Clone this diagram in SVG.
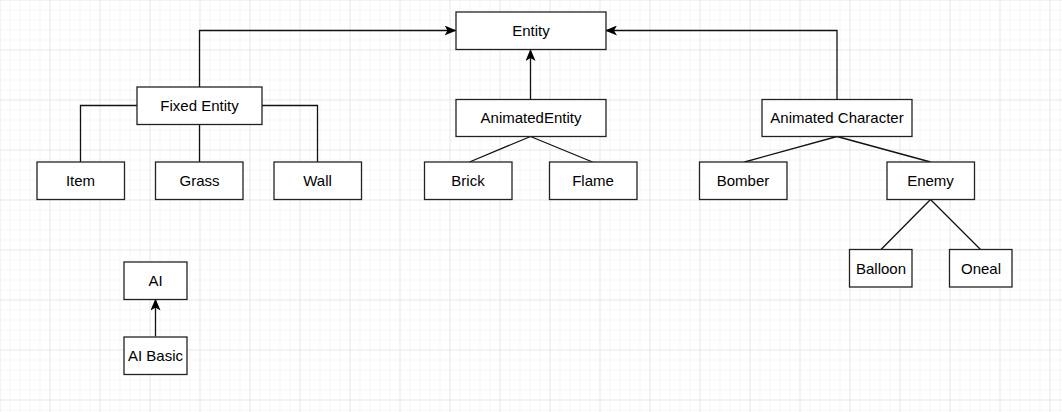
<svg xmlns="http://www.w3.org/2000/svg" width="1062" height="412" viewBox="0 0 1062 412">
<defs>
<pattern id="minor" width="10" height="10" patternUnits="userSpaceOnUse" x="-0.5" y="-0.5">
<path d="M10 0H0V10" fill="none" stroke="#eeeeee" stroke-width="1"/>
</pattern>
<pattern id="major" width="50" height="50" patternUnits="userSpaceOnUse" x="-0.5" y="-0.5">
<path d="M50 0H0V50" fill="none" stroke="#dcdcdc" stroke-width="1"/>
</pattern>
<marker id="arr" viewBox="0 0 12 10" refX="11" refY="5" markerWidth="12" markerHeight="10" markerUnits="userSpaceOnUse" orient="auto">
<path d="M0 0L12 5L0 10L3 5Z" fill="#000"/>
</marker>
<style>
.box rect{fill:#fff;stroke:#222;stroke-width:1.3}
.box text{font-family:"Liberation Sans",Arial,sans-serif;font-size:15px;fill:#000;text-anchor:middle}
.c path{fill:none;stroke:#111;stroke-width:1.3}
</style>
</defs>
<rect width="1062" height="412" fill="#fff"/>
<rect width="1062" height="412" fill="url(#minor)"/>
<rect width="1062" height="412" fill="url(#major)"/>
<g class="c" id="connectors">
<path d="M199.5 87V30.5H455.5" marker-end="url(#arr)"/>
<path d="M837 99.5V30.5H606" marker-end="url(#arr)"/>
<path d="M530.5 99.5V50" marker-end="url(#arr)"/>
<path d="M137 105.5H80.5V162"/>
<path d="M199.5 124V162"/>
<path d="M262 105.5H317.5V162"/>
<path d="M530.5 136.5L469.5 162M530.5 136.5L592.5 162"/>
<path d="M837 136.5L744.5 162M837 136.5L930.5 162"/>
<path d="M930.5 199.5L881 249.5M930.5 199.5L980.5 249.5"/>
<path d="M155.5 336.5V299.5" marker-end="url(#arr)"/>
</g>
<g class="box" id="entity"><rect x="456" y="12" width="150" height="37.5"/><text x="531" y="36">Entity</text></g>
<g class="box" id="fixed-entity"><rect x="137" y="87" width="125" height="37.5"/><text x="199.5" y="111">Fixed Entity</text></g>
<g class="box" id="animated-entity"><rect x="456" y="99.5" width="150" height="37"/><text x="531" y="123">AnimatedEntity</text></g>
<g class="box" id="animated-character"><rect x="762" y="99.5" width="150" height="37"/><text x="837" y="123">Animated Character</text></g>
<g class="box" id="item"><rect x="37" y="162" width="87.5" height="37.5"/><text x="80.5" y="186">Item</text></g>
<g class="box" id="grass"><rect x="155.5" y="162" width="87.5" height="37.5"/><text x="199.5" y="186">Grass</text></g>
<g class="box" id="wall"><rect x="274" y="162" width="87.5" height="37.5"/><text x="317.5" y="186">Wall</text></g>
<g class="box" id="brick"><rect x="424.5" y="162" width="87.5" height="37.5"/><text x="468" y="186">Brick</text></g>
<g class="box" id="flame"><rect x="549.5" y="162" width="87.5" height="37.5"/><text x="593" y="186">Flame</text></g>
<g class="box" id="bomber"><rect x="699.5" y="162" width="87.5" height="37.5"/><text x="743" y="186">Bomber</text></g>
<g class="box" id="enemy"><rect x="887" y="162" width="87.5" height="37.5"/><text x="930.5" y="186">Enemy</text></g>
<g class="box" id="balloon"><rect x="849.5" y="249.5" width="62.5" height="37.5"/><text x="881" y="273.5">Balloon</text></g>
<g class="box" id="oneal"><rect x="949.5" y="249.5" width="62.5" height="37.5"/><text x="981" y="273.5">Oneal</text></g>
<g class="box" id="ai"><rect x="124" y="262" width="63" height="37.5"/><text x="155.5" y="286">AI</text></g>
<g class="box" id="ai-basic"><rect x="124" y="337" width="63" height="37.5"/><text x="155.5" y="361">AI Basic</text></g>
</svg>
